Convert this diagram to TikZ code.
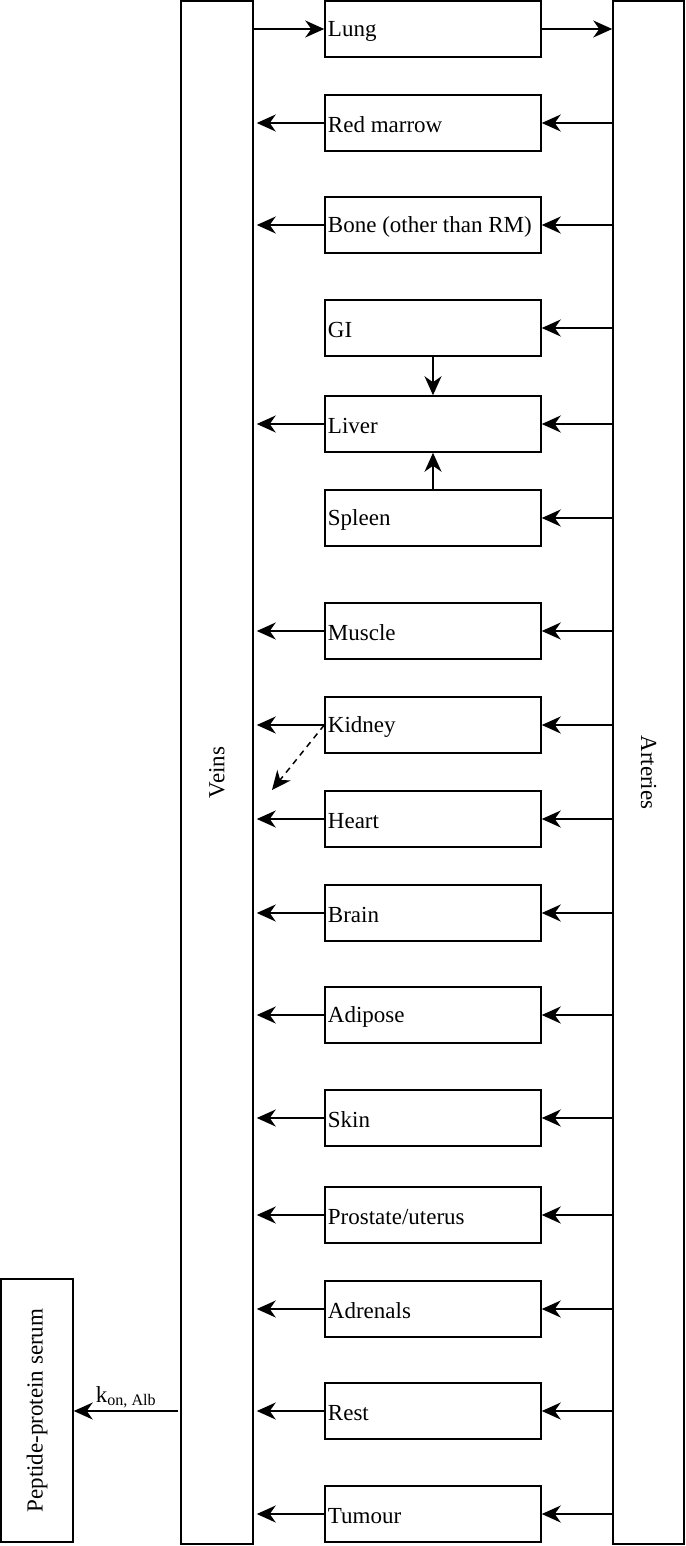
\documentclass[tikz,border=0pt]{standalone}
\usepackage{fontspec}
\setmainfont{Liberation Serif}
\usetikzlibrary{arrows.meta}
\begin{document}
\begin{tikzpicture}[x=1pt,y=-1pt,
  every node/.style={font=\fontsize{23}{28}\selectfont},
  organ/.style={draw, line width=1.5pt, minimum width=216pt, minimum height=56pt, inner sep=0pt,
    label={[anchor=west, inner xsep=3.5pt, inner ysep=0pt, yshift=-2pt]west:#1}},
  column/.style={draw, line width=1.5pt, minimum width=72pt, inner sep=0pt},
  arr/.style={line width=1.5pt, -{Stealth[length=19pt,width=17pt,inset=6pt]}},
  darr/.style={arr, dashed, dash pattern=on 6pt off 5pt}]
\useasboundingbox (0,0) rectangle (685,1546);
\node[column, minimum height=1543pt] (veins) at (217,772.5) {};
\node[rotate=90] at (veins.center) {Veins};
\node[column, minimum width=71pt, minimum height=1543pt] (arteries) at (648.5,772.5) {};
\node[rotate=-90] at (arteries.center) {Arteries};
\node[column, minimum height=263pt] (serum) at (37,1410.5) {};
\node[rotate=90] at (serum.center) {Peptide-protein serum};
\node[organ={Lung}] (lung) at (433,29) {};
\node[organ={Red marrow}] (rm) at (433,123) {};
\node[organ={Bone (other than RM)}] (bone) at (433,225) {};
\node[organ={GI}] (gi) at (433,328) {};
\node[organ={Liver}] (liver) at (433,424) {};
\node[organ={Spleen}] (spleen) at (433,518) {};
\node[organ={Muscle}] (muscle) at (433,631) {};
\node[organ={Kidney}] (kidney) at (433,725) {};
\node[organ={Heart}] (heart) at (433,819) {};
\node[organ={Brain}] (brain) at (433,913) {};
\node[organ={Adipose}] (adipose) at (433,1015) {};
\node[organ={Skin}] (skin) at (433,1118) {};
\node[organ={Prostate/uterus}] (prostate) at (433,1215) {};
\node[organ={Adrenals}] (adrenals) at (433,1309) {};
\node[organ={Rest}] (rest) at (433,1411) {};
\node[organ={Tumour}] (tumour) at (433,1514) {};
% lung
\draw[arr] (lung.west -| veins.east) -- (lung.west);
\draw[arr] (lung.east) -- (lung.east -| arteries.west);
% others
\foreach \o in {rm,bone,liver,muscle,kidney,heart,brain,adipose,skin,prostate,adrenals,rest,tumour}{
  \draw[arr] (\o.west) -- ([xshift=3pt]\o.west -| veins.east);
}
\foreach \o in {rm,bone,gi,liver,spleen,muscle,kidney,heart,brain,adipose,skin,prostate,adrenals,rest,tumour}{
  \draw[arr] (\o.east -| arteries.west) -- (\o.east);
}
\draw[arr] (gi.south) -- (liver.north);
\draw[arr] (spleen.north) -- (liver.south);
\coordinate (kd) at (272,790);
\draw[darr] (kidney.west) -- (kd);
\draw[arr] ([xshift=-2pt]rest.west -| veins.west) -- node[above, inner sep=2pt] {k\textsubscript{on, Alb}} (rest.west -| serum.east);
\end{tikzpicture}
\end{document}
